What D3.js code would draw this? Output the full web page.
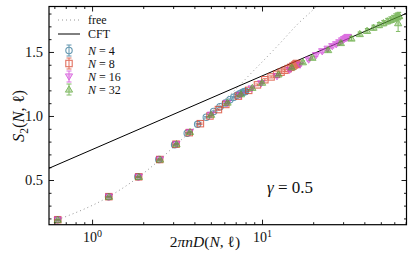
<!DOCTYPE html>
<html>
<head>
<meta charset="UTF-8">
<script src="https://cdn.jsdelivr.net/npm/d3@7"></script>
<style>
  body { margin: 0; background: #fff; }
  text { font-family: 'Liberation Serif'; }
  .axis path { display: none; }
  .axis line { stroke: #000; stroke-width: 0.9; }
</style>
</head>
<body>
<script>
// values
var xN4 = [0.627,1.25,1.86,2.47,3.06,3.63,4.18,4.70,5.19,5.66,6.09,6.47,6.82,7.13,7.39,7.61,7.77,7.90,7.98,8.00];
var yN4 = [0.19,0.37,0.525,0.66,0.775,0.865,0.935,0.99,1.035,1.072,1.102,1.127,1.147,1.162,1.173,1.181,1.187,1.19,1.192,1.193];
var eN4 = [0.003,0.003,0.004,0.004,0.004,0.005,0.005,0.005,0.005,0.005,0.006,0.006,0.006,0.006,0.006,0.006,0.006,0.006,0.006,0.006];

var xN8 = [0.628,1.255,1.88,2.50,3.12,3.73,4.34,4.94,5.54,6.12,7.26,8.35,9.40,10.39,11.31,12.17,12.94,13.65,14.26,14.78,15.22,15.56,15.80,15.95,16.00];
var yN8 = [0.19,0.37,0.525,0.66,0.78,0.87,0.94,1.0,1.05,1.09,1.155,1.2,1.243,1.283,1.305,1.325,1.342,1.357,1.37,1.38,1.39,1.398,1.404,1.408,1.41];
var eN8 = [0.003,0.003,0.004,0.004,0.004,0.005,0.005,0.005,0.005,0.006,0.006,0.007,0.007,0.008,0.008,0.008,0.009,0.009,0.009,0.01,0.01,0.01,0.01,0.01,0.01];

var xN16 = [0.628,1.256,1.883,2.51,3.136,3.76,5.0,6.24,7.47,8.69,9.89,12.25,14.53,16.72,18.8,20.8,22.6,24.3,25.9,27.3,28.5,29.6,30.4,31.1,31.6,31.9,32.0];
var yN16 = [0.19,0.37,0.525,0.66,0.78,0.875,1.01,1.1,1.165,1.215,1.255,1.31,1.36,1.40,1.44,1.475,1.505,1.525,1.545,1.56,1.575,1.59,1.60,1.607,1.612,1.615,1.617];
var eN16 = [0.003,0.003,0.004,0.004,0.004,0.005,0.005,0.006,0.006,0.007,0.007,0.008,0.009,0.01,0.01,0.011,0.012,0.012,0.013,0.013,0.014,0.014,0.014,0.015,0.015,0.015,0.015];

var xN32 = [0.628,1.257,1.885,2.513,3.14,3.77,5.02,6.27,7.52,8.77,10.01,12.5,14.96,17.4,19.8,24.5,29.1,33.6,37.6,41.5,45.3,48.8,51.8,54.6,57.0,59.1,60.9,62.3,63.2,63.8,64.0];
var yN32 = [0.19,0.37,0.525,0.66,0.78,0.875,1.01,1.105,1.17,1.22,1.26,1.325,1.38,1.42,1.455,1.515,1.57,1.605,1.64,1.665,1.69,1.71,1.725,1.74,1.75,1.76,1.77,1.775,1.725,1.78,1.782];
var eN32 = [0.003,0.003,0.004,0.004,0.005,0.005,0.006,0.006,0.007,0.008,0.008,0.009,0.01,0.011,0.012,0.013,0.014,0.015,0.016,0.018,0.019,0.02,0.021,0.022,0.024,0.026,0.028,0.03,0.065,0.03,0.025];

var freeX = [0.628,1.256,1.885,2.51,3.14,3.77,4.4,5.03,5.66,6.9,8.5,10.5,12.8,16,21,23];
var freeY = [0.19,0.37,0.525,0.66,0.78,0.875,0.955,1.03,1.095,1.2,1.325,1.45,1.57,1.71,1.86,1.92];

var cftX = [0.55, 72];
var cftY = [0.588, 1.806];

var seriesN = ["4", "8", "16", "32"];

var xMajor = [1, 10];
var xMinor = [0.6,0.7,0.8,0.9,2,3,4,5,6,7,8,9,20,30,40,50,60,70];
var yMajor = [0.5, 1.0, 1.5];
var yMinor = [0.2,0.3,0.4,0.6,0.7,0.8,0.9,1.1,1.2,1.3,1.4,1.6,1.7,1.8];

var FONT = "Liberation Serif";
var W = 415, H = 256;
var margin = { top: 6.5, right: 8.5, bottom: 31.3, left: 49 };
var width = W - margin.left - margin.right,
    height = H - margin.top - margin.bottom;

var svg = d3.select("body").append("svg")
    .attr("width", W).attr("height", H);
var g = svg.append("g")
    .attr("transform", "translate(" + margin.left + "," + margin.top + ")");

var x = d3.scaleLog().domain([0.558, 70.8]).range([0, width]);
var y = d3.scaleLinear().domain([0.151, 1.855]).range([height, 0]);

g.append("clipPath").attr("id", "clip")
  .append("rect").attr("width", width).attr("height", height);

var plot = g.append("g").attr("clip-path", "url(#clip)");

// free line
var freeData = freeX.map(function (d, i) { return [d, freeY[i]]; });
plot.append("path")
    .datum(freeData)
    .attr("fill", "none")
    .attr("stroke", "#8a8a8a")
    .attr("stroke-width", 0.9)
    .attr("stroke-dasharray", "1,3")
    .attr("d", d3.line().curve(d3.curveMonotoneX)
        .x(function (d) { return x(d[0]); })
        .y(function (d) { return y(d[1]); }));

// CFT line
var cftData = cftX.map(function (d, i) { return [d, cftY[i]]; });
plot.append("path")
    .datum(cftData)
    .attr("fill", "none")
    .attr("stroke", "#000")
    .attr("stroke-width", 1)
    .attr("d", d3.line()
        .x(function (d) { return x(d[0]); })
        .y(function (d) { return y(d[1]); }));

var colors = ["#2f7596", "#d9412a", "#d040d6", "#5aa534"];
var shapes = ["circle", "square", "tridown", "triup"];

function drawMarker(sel, shape, color) {
  if (shape === "circle") {
    sel.append("circle").attr("r", 3.2)
      .attr("fill", "none").attr("stroke", color).attr("stroke-width", 1.1);
  } else if (shape === "square") {
    sel.append("rect").attr("x", -3.2).attr("y", -3.2).attr("width", 6.4).attr("height", 6.4)
      .attr("fill", "none").attr("stroke", color).attr("stroke-width", 1.1);
  } else if (shape === "tridown") {
    sel.append("path").attr("d", "M-3.6,-2.6L3.6,-2.6L0,3.6Z")
      .attr("fill", color).attr("fill-opacity", 0.45).attr("stroke", color).attr("stroke-width", 1);
  } else {
    sel.append("path").attr("d", "M-3.6,2.6L3.6,2.6L0,-3.6Z")
      .attr("fill", color).attr("fill-opacity", 0.45).attr("stroke", color).attr("stroke-width", 1);
  }
}

var allX = [xN4, xN8, xN16, xN32], allY = [yN4, yN8, yN16, yN32], allE = [eN4, eN8, eN16, eN32];

allX.forEach(function (xs, s) {
  var pts = xs.map(function (d, i) { return { x: d, y: allY[s][i], e: allE[s][i] }; });
  var grp = plot.append("g").attr("opacity", 0.75);
  var pt = grp.selectAll("g.pt").data(pts).enter().append("g")
      .attr("class", "pt")
      .attr("transform", function (d) { return "translate(" + x(d.x) + "," + y(d.y) + ")"; });
  pt.append("line")
      .attr("y1", function (d) { return y(d.y + d.e) - y(d.y); })
      .attr("y2", function (d) { return y(d.y - d.e) - y(d.y); })
      .attr("stroke", colors[s]).attr("stroke-width", 1);
  pt.append("line").attr("x1", -2.2).attr("x2", 2.2)
      .attr("y1", function (d) { return y(d.y + d.e) - y(d.y); })
      .attr("y2", function (d) { return y(d.y + d.e) - y(d.y); })
      .attr("stroke", colors[s]).attr("stroke-width", 1);
  pt.append("line").attr("x1", -2.2).attr("x2", 2.2)
      .attr("y1", function (d) { return y(d.y - d.e) - y(d.y); })
      .attr("y2", function (d) { return y(d.y - d.e) - y(d.y); })
      .attr("stroke", colors[s]).attr("stroke-width", 1);
  pt.each(function () { drawMarker(d3.select(this), shapes[s], colors[s]); });
});

// axes, ticks pointing inward on all four sides
function addAxis(axisFn, vals, size, transform) {
  return g.append("g").attr("class", "axis").attr("transform", transform || null)
      .call(axisFn.tickValues(vals).tickSize(-size).tickFormat(""));
}
addAxis(d3.axisBottom(x), xMinor, 2.5, "translate(0," + height + ")");
addAxis(d3.axisTop(x), xMinor, 2.5);
addAxis(d3.axisLeft(y), yMinor, 2.5);
addAxis(d3.axisRight(y), yMinor, 2.5, "translate(" + width + ",0)");
addAxis(d3.axisTop(x), xMajor, 5);
addAxis(d3.axisRight(y), yMajor, 5, "translate(" + width + ",0)");

var xAx = g.append("g").attr("class", "axis").attr("transform", "translate(0," + height + ")")
    .call(d3.axisBottom(x).tickValues(xMajor).tickSize(-5).tickPadding(10).tickFormat(""));
xAx.selectAll(".tick text").each(function (d) {
  var t = d3.select(this).attr("font-size", 14).attr("fill", "#111").attr("dy", "0.55em");
  t.append("tspan").text("10");
  t.append("tspan").attr("dy", -5.5).attr("font-size", 10).text(Math.round(Math.log10(d)));
});

var yAx = g.append("g").attr("class", "axis")
    .call(d3.axisLeft(y).tickValues(yMajor).tickSize(-5).tickPadding(6).tickFormat(d3.format(".1f")));
yAx.selectAll("text").attr("font-size", 14.5).attr("fill", "#111");

g.append("rect").attr("width", width).attr("height", height)
    .attr("fill", "none").attr("stroke", "#000").attr("stroke-width", 1.2);

// axis labels
var xl = svg.append("text").attr("x", 205).attr("y", 247).attr("text-anchor", "middle").attr("font-size", 15.5).attr("fill", "#111");
xl.append("tspan").text("2");
xl.append("tspan").attr("font-style", "italic").text("πnD");
xl.append("tspan").text("(");
xl.append("tspan").attr("font-style", "italic").text("N");
xl.append("tspan").text(", ℓ)");

var yl = svg.append("text").attr("transform", "translate(24,116) rotate(-90)")
    .attr("text-anchor", "middle").attr("font-size", 16.5).attr("fill", "#111");
yl.append("tspan").attr("font-style", "italic").text("S");
yl.append("tspan").attr("font-size", 11.5).attr("dy", 3.5).text("2");
yl.append("tspan").attr("dy", -3.5).text("(");
yl.append("tspan").attr("font-style", "italic").text("N");
yl.append("tspan").text(", ℓ)");

var gam = svg.append("text").attr("x", 290).attr("y", 193).attr("text-anchor", "middle").attr("font-size", 17).attr("fill", "#111");
gam.append("tspan").attr("font-style", "italic").text("γ");
gam.append("tspan").text(" = 0.5");

// legend
var lg = svg.append("g");
var lx0 = 58, lx1 = 80, ltx = 88;
lg.append("line").attr("x1", lx0).attr("x2", lx1).attr("y1", 20).attr("y2", 20)
  .attr("stroke", "#8a8a8a").attr("stroke-width", 0.9).attr("stroke-dasharray", "1,3");
lg.append("text").attr("x", ltx).attr("y", 24).attr("font-size", 12).attr("fill", "#111").text("free");
lg.append("line").attr("x1", lx0).attr("x2", lx1).attr("y1", 34).attr("y2", 34)
  .attr("stroke", "#000").attr("stroke-width", 1);
lg.append("text").attr("x", ltx).attr("y", 37.5).attr("font-size", 12).attr("fill", "#111").text("CFT");
seriesN.forEach(function (n, s) {
  var cy = 50.5 + s * 13;
  var mk = lg.append("g").attr("transform", "translate(69," + cy + ")").attr("opacity", 0.75);
  mk.append("line").attr("y1", -5.5).attr("y2", 5.5).attr("stroke", colors[s]).attr("stroke-width", 1);
  mk.append("line").attr("x1", -2.5).attr("x2", 2.5).attr("y1", -5.5).attr("y2", -5.5).attr("stroke", colors[s]);
  mk.append("line").attr("x1", -2.5).attr("x2", 2.5).attr("y1", 5.5).attr("y2", 5.5).attr("stroke", colors[s]);
  drawMarker(mk, shapes[s], colors[s]);
  var t = lg.append("text").attr("x", ltx).attr("y", cy + 4).attr("font-size", 12).attr("fill", "#111");
  t.append("tspan").attr("font-style", "italic").text("N");
  t.append("tspan").text(" = " + n);
});

// serif face on every text element
svg.selectAll("text").style("font-family", FONT);
</script>
</body>
</html>
